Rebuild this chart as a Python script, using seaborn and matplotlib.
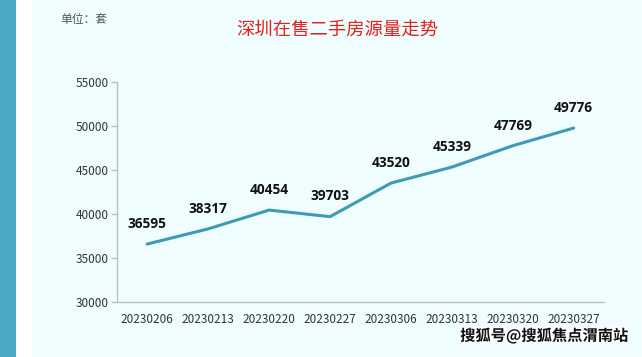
import matplotlib
matplotlib.use("Agg")
import matplotlib.pyplot as plt
import matplotlib.patheffects as pe
import seaborn as sns
import pandas as pd
import numpy as np
from matplotlib.patches import Rectangle

# data
dates = ['20230206', '20230213', '20230220', '20230227',
         '20230306', '20230313', '20230320', '20230327']
listings = [36595, 38317, 40454, 39703, 43520, 45339, 47769, 49776]
y_ticks = [30000, 35000, 40000, 45000, 50000, 55000]

df = pd.DataFrame({'date': dates, 'listings': listings})

sns.set_theme(style="white")
plt.rcParams['font.family'] = ['Noto Sans CJK SC', 'DejaVu Sans']

bg = '#F0FDFE'
axis_grey = '#BFBFBF'
line_col = '#3E9BB0'

fig = plt.figure(figsize=(6.42, 3.57), dpi=100)
fig.patch.set_facecolor(bg)
# teal strip + white gap on the left edge
fig.patches.append(Rectangle((0, 0), 16 / 642, 1, transform=fig.transFigure,
                             facecolor='#4AA8C4', edgecolor='none', zorder=0))
fig.patches.append(Rectangle((16 / 642, 0), 16 / 642, 1, transform=fig.transFigure,
                             facecolor='white', edgecolor='none', zorder=0))

ax = fig.add_axes([0.182, 0.154, 0.759, 0.616])
ax.set_facecolor(bg)

x = np.arange(len(dates))
sns.lineplot(x=x, y=df['listings'], ax=ax, color=line_col, linewidth=2.2)

for xi, v in zip(x, listings):
    ax.annotate(str(v), (xi, v), xytext=(0, 9.5), textcoords='offset points',
                ha='center', va='bottom', fontsize=9.8, fontweight='bold',
                color='#111111', family=['Open Sans', 'DejaVu Sans'])

ax.set_xlim(-0.5, len(dates) - 0.5)
ax.set_ylim(30000, 55000)
ax.set_yticks(y_ticks)
ax.set_yticklabels([str(t) for t in y_ticks], fontsize=8.5, color='#333333')
ax.set_xticks(x)
ax.set_xticklabels(dates, fontsize=8.5, color='#333333')
ax.set_xticks(np.arange(-0.5, len(dates)), minor=True)
ax.tick_params(axis='x', which='major', length=0, pad=8)
ax.tick_params(axis='x', which='minor', length=4, color=axis_grey, width=1)
ax.tick_params(axis='y', which='major', length=4, color=axis_grey, width=1, pad=2, left=True)
ax.set_xlabel('')
ax.set_ylabel('')

for s in ['top', 'right']:
    ax.spines[s].set_visible(False)
for s in ['left', 'bottom']:
    ax.spines[s].set_color(axis_grey)
    ax.spines[s].set_linewidth(1)

fig.text(337 / 642, 1 - 30 / 357, '深圳在售二手房源量走势', ha='center', va='center',
         fontsize=13.2, color='#E3211C')
fig.text(60 / 642, 1 - 20 / 357, '单位：套', ha='left', va='center',
         fontsize=8.5, color='#555555')

wm = fig.text(628 / 642, 1 - 336 / 357, '搜狐号@搜狐焦点渭南站', ha='right', va='center',
              fontsize=11, fontweight='bold', color='#111111')
wm.set_path_effects([pe.withStroke(linewidth=2.5, foreground='white')])

fig.savefig('out.png', dpi=100, facecolor=fig.get_facecolor())
